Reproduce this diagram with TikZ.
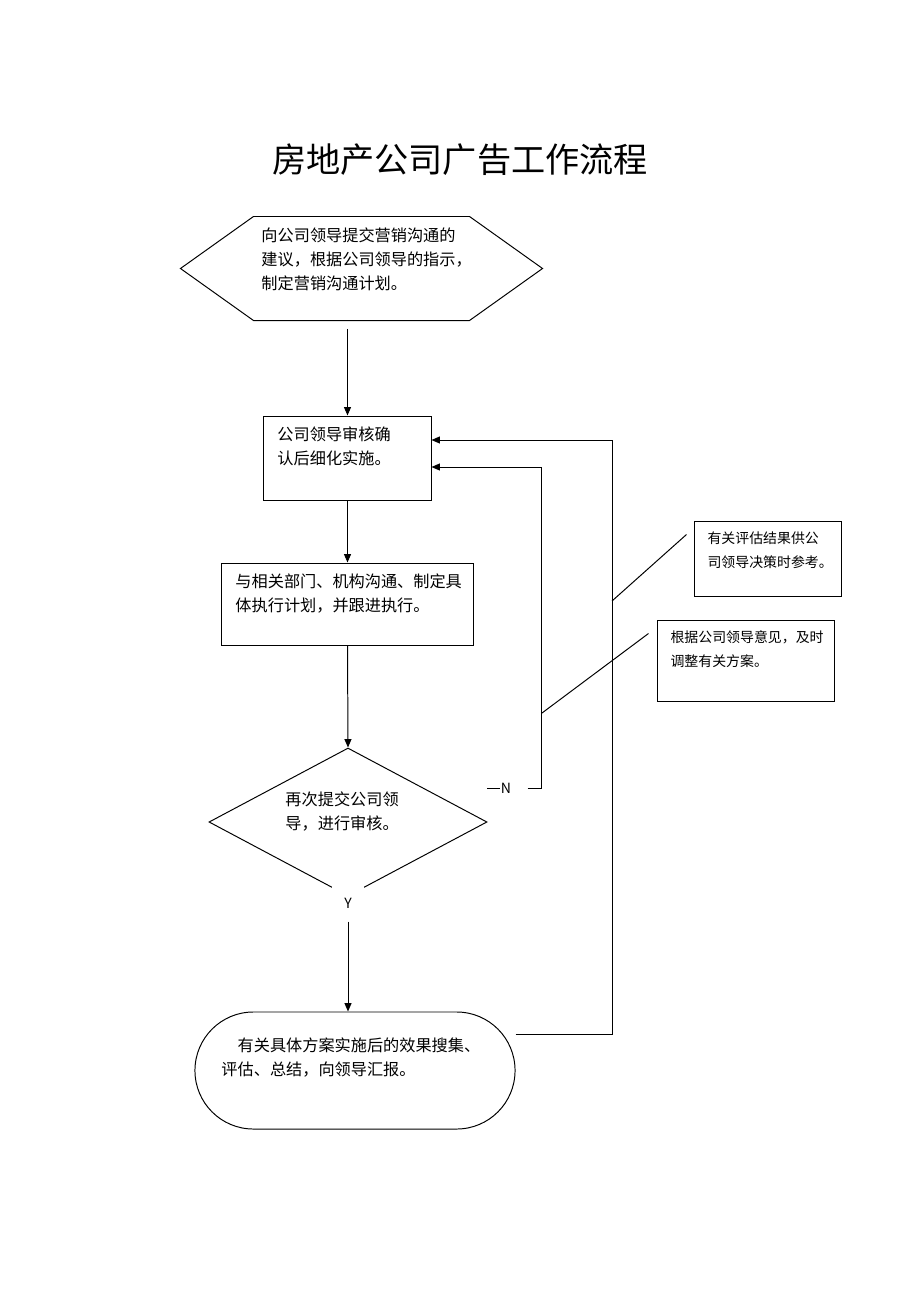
\documentclass[tikz,border=0pt]{standalone}
\usepackage{fontspec}
\newfontfamily\cjk{Noto Sans CJK SC}
\usepackage{tikz}
\usetikzlibrary{shapes.geometric, arrows.meta, positioning, calc}

\begin{document}
\begin{tikzpicture}[x=0.025cm, y=-0.025cm, line width=0.7pt,
  box/.style={draw, rectangle, inner sep=0pt},
  txt/.style={anchor=north west, align=left, inner sep=0pt, font=\cjk\fontsize{11.5}{17.07}\selectfont},
  note/.style={anchor=north west, align=left, inner sep=0pt, font=\cjk\fontsize{9.9}{17.07}\selectfont},
  lbl/.style={fill=white, inner sep=0pt, font=\cjk\fontsize{10}{12}\selectfont},
  arr/.style={-{Triangle[length=6pt, width=5pt]}},
]
  \useasboundingbox (0,0) rectangle (920,1302);
  % Title
  \node[font=\cjk\fontsize{24.3}{28}\selectfont] (title) at (460,160) {房地产公司广告工作流程};
  % Shapes
  \node[minimum width=5.375cm, minimum height=2.575cm, inner sep=0pt] (plan) at (361.5,268.5) {};
  \draw (plan.north west) -- (plan.north east) -- ($(plan.east)+(73,0)$) -- (plan.south east)
    -- (plan.south west) -- ($(plan.west)+(-73,0)$) -- cycle;
  \node[box, minimum width=4.175cm, minimum height=2.1cm] (audit) at (347.5,458) {};
  \node[box, minimum width=6.275cm, minimum height=2.05cm] (execute) at (347.5,604) {};
  \node[draw, diamond, minimum width=6.95cm, minimum height=3.7cm, inner sep=0pt] (review) at (348,822) {};
  \node[box, rounded corners=1.46cm, minimum width=8cm, minimum height=2.925cm] (report) at (355,1070.5) {};
  \node[box, minimum width=3.65cm, minimum height=1.875cm] (noteA) at (768,558.5) {};
  \node[box, minimum width=4.4cm, minimum height=2.025cm] (noteB) at (746,660.5) {};
  % Texts
  \node[txt] (plantxt) at (261,227) {向公司领导提交营销沟通的\\建议，根据公司领导的指示，\\制定营销沟通计划。};
  \node[txt] (audittxt) at (277,426) {公司领导审核确\\认后细化实施。};
  \node[txt] (exectxt) at (235,573) {与相关部门、机构沟通、制定具\\体执行计划，并跟进执行。};
  \node[txt] (reviewtxt) at (285,791) {再次提交公司领\\导，进行审核。};
  \node[txt] (reporttxt) at (221,1037) {\hspace*{1em}有关具体方案实施后的效果搜集、\\评估、总结，向领导汇报。};
  \node[note] (notetxtA) at (707,531) {有关评估结果供公\\司领导决策时参考。};
  \node[note] (notetxtB) at (670,630) {根据公司领导意见，及时\\调整有关方案。};
  % Labels
  \node[lbl, minimum width=0.8cm, minimum height=0.9cm] (yes) at (348,903) {Y};
  \node[lbl] (no) at (506,788) {N};
  \coordinate (nfree) at (487,788);
  % Edges
  \draw[arr, shorten <=6] (audit.north |- plan.south) -- (audit.north);
  \draw[arr] (audit.south) -- (execute.north);
  \draw[arr] (execute.south) -- (review.north);
  \draw[arr] (yes.south) -- (yes.south |- report.north);
  \draw (nfree) -- (no.west);
  \draw[arr] ($(no.east)+(16,0)$) -- ++(14,0) |- ($(audit.east)+(0,9)$);
  \draw[arr] ($(report.east)+(0,-36)$) -- ++(97,0) |- ($(audit.east)+(0,-18)$);
  % Callouts
  \coordinate (tapA) at (612,601);
  \coordinate (tapB) at (542,713);
  \draw ($(noteA.north west)+(-8,14)$) -- (tapA);
  \draw ($(noteB.north west)+(-9,14)$) -- (tapB);
\end{tikzpicture}
\end{document}
